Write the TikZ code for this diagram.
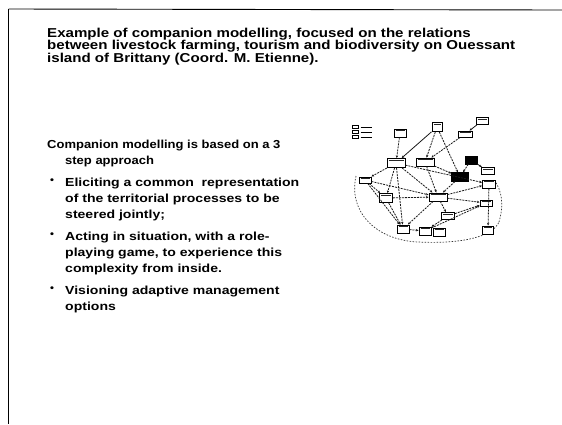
\documentclass[tikz,border=0pt]{standalone}
\usepackage{fontspec}
\setmainfont{Liberation Sans}
\newfontfamily\slidefont[FakeStretch=1.12]{Liberation Sans}
\newfontfamily\titlefont[FakeStretch=1.17]{Liberation Sans}
\newfontfamily\bulletfont[FakeStretch=1.2]{Liberation Sans}
\usetikzlibrary{arrows.meta}
\begin{document}
\begin{tikzpicture}[x=1pt,y=-1pt,
  frameline/.style={black,line width=1.8pt},
  topline/.style={black,line width=0.9pt},
  titletext/.style={anchor=north west,inner sep=0pt,align=left,font=\titlefont\bfseries\fontsize{12.9}{12.6}\selectfont},
  bodytext/.style={anchor=north west,inner sep=0pt,align=left,font=\slidefont\bfseries\fontsize{11.6}{16}\selectfont},
  itemtext/.style={anchor=north west,inner sep=0pt,align=left,font=\bulletfont\bfseries\fontsize{11.7}{16}\selectfont},
  bulletmark/.style={anchor=north west,inner sep=0pt,font=\slidefont\bfseries\fontsize{10}{16}\selectfont},
  nbox/.style={draw=black,line width=1pt,fill=white,inner sep=0pt,minimum width=#1},
  nbox/.default=12pt,
  blackbox/.style={draw=black,fill=black,inner sep=0pt},
  link/.style={black!90,line width=0.8pt,dash pattern=on 2pt off 1pt,-{Stealth[length=2.6pt,width=2.4pt]}},
  slink/.style={black!90,line width=0.8pt,-{Stealth[length=2.6pt,width=2.4pt]}},
  ring/.style={black!80,line width=0.7pt,dash pattern=on 1.5pt off 1.5pt}
]
\useasboundingbox (0,0) rectangle (562,424);
\fill[white] (0,0) rectangle (562,424);
% frame
\coordinate (fl1) at (8.5,9);
\coordinate (fl2) at (8.5,424);
\coordinate (ft2) at (562,10);
\draw[frameline] (fl1) -- (fl2);
\draw[topline] (fl1) -- (ft2);

% title
\node[titletext] (title) at (47,27.5) {Example of companion modelling, focused on the relations\\between livestock farming, tourism and biodiversity on Ouessant\\island of Brittany (Coord. M. Etienne).};

% body
\node[bodytext] (intro) at (47,140) {Companion modelling is based on a 3\\\hspace*{18pt}step approach};
\node[bulletmark] (b1) at (50,179) {•};
\node[itemtext] (t1) at (65,178) {Eliciting a common\ \ representation\\of the territorial processes to be\\steered jointly;};
\node[bulletmark] (b2) at (50,233) {•};
\node[itemtext] (t2) at (65,232) {Acting in situation, with a role-\\playing game, to experience this\\complexity from inside.};
\node[bulletmark] (b3) at (50,287) {•};
\node[itemtext] (t3) at (65,286) {Visioning adaptive management\\options};

% network picture
\draw[ring] (356,176) .. controls (348,212) and (376,240) .. (418,242) .. controls (458,244) and (492,238) .. (499,222);
\draw[ring] (499,222) .. controls (504,205) and (502,190) .. (494,180);
% legend
\foreach \yy/\nm in {127/lga,132/lgb,137/lgc}{
  \node[nbox=6pt,minimum height=3.5pt] (\nm) at (355,\yy) {};
  \draw[black,line width=0.9pt] (\nm.east) ++(2,0) -- ++(11,0);
}
% boxes
\node[nbox=12pt,minimum height=8pt] (a) at (400,133) {};
\node[nbox=10pt,minimum height=9pt] (b) at (437,127) {};
\node[nbox=14pt,minimum height=6pt] (c) at (465,134) {};
\node[nbox=12pt,minimum height=7pt] (d) at (482,121) {};
\node[nbox=18pt,minimum height=9pt] (e) at (396,163) {};
\node[nbox=18pt,minimum height=8pt] (f) at (425,162) {};
\node[blackbox,minimum width=12pt,minimum height=8pt] (g) at (471,160) {};
\node[blackbox,minimum width=17pt,minimum height=9pt] (h) at (460,177) {};
\node[nbox=12pt,minimum height=6pt] (i) at (365,180) {};
\node[nbox=13pt,minimum height=9pt] (j) at (386,198) {};
\node[nbox=18pt,minimum height=8pt] (k) at (438,197) {};
\node[nbox=13pt,minimum height=7pt] (l) at (488,171) {};
\node[nbox=13pt,minimum height=8pt] (m) at (489,184) {};
\node[nbox=12pt,minimum height=6pt] (n) at (486,203) {};
\node[nbox=13pt,minimum height=7pt] (o) at (448,216) {};
\node[nbox=12pt,minimum height=8pt] (p) at (403,229) {};
\node[nbox=12pt,minimum height=8pt] (q) at (425,231) {};
\node[nbox=12pt,minimum height=8pt] (r) at (439,232) {};
\node[nbox=11pt,minimum height=8pt] (s) at (488,230) {};
% inner lines of boxes
\foreach \nm in {a,b,c,d,e,f,i,j,k,l,m,n,o,p,q,r,s}{
  \draw[black!85,line width=1pt] ([xshift=2pt,yshift=-2.4pt]\nm.north west) -- ([xshift=-2pt,yshift=-2.4pt]\nm.north east);
}
% links
\draw[link] (a) -- (e);
\draw[slink] (b) -- (e);
\draw[link] (b) -- (f);
\draw[link] (c) -- (f);
\draw[slink] (d) -- (c);
\draw[link] (b) -- (h);
\draw[link] (f) -- (h);
\draw[slink] (g) -- (l);
\draw[link] (g) -- (h);
\draw[link] (e) -- (i);
\draw[link] (e) -- (j);
\draw[link] (e) -- (k);
\draw[link] (i) -- (j);
\draw[link] (i) -- (k);
\draw[link] (j) -- (p);
\draw[link] (e) -- (p);
\draw[link] (k) -- (p);
\draw[link] (k) -- (o);
\draw[link] (o) -- (q);
\draw[link] (f) -- (k);
\draw[link] (h) -- (k);
\draw[link] (k) -- (m);
\draw[link] (k) -- (n);
\draw[link] (e) -- (m);
\draw[link] (q) -- (n);
\draw[link] (m) -- (s);
\draw[link] (j) -- (k);
\draw[link] (p) -- (q);
\draw[link] (i) -- (p);
\draw[link] (o) -- (n);
\end{tikzpicture}
\end{document}
